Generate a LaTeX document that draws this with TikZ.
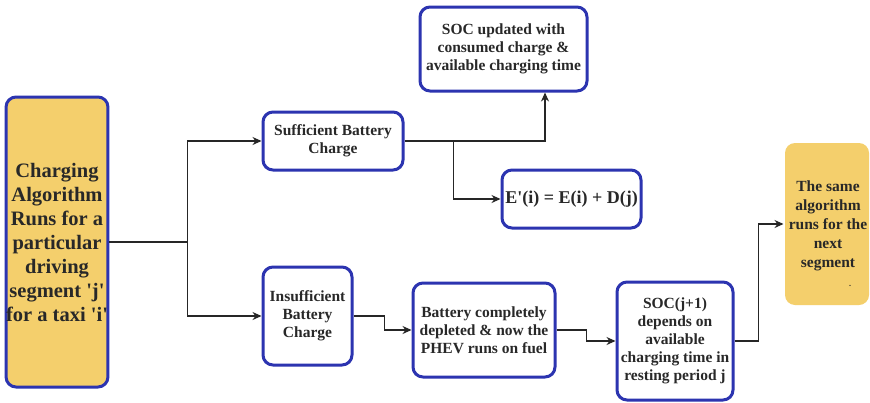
\documentclass[tikz,border=0pt]{standalone}
\usepackage{fontspec}
\setmainfont{Liberation Serif}
\usepackage{xcolor}
\usetikzlibrary{
  arrows.meta,
  positioning,
  calc
}
\definecolor{boxblue}{RGB}{44,52,176}
\definecolor{boxyellow}{RGB}{244,207,108}
\definecolor{txtdark}{RGB}{40,40,40}
\tikzset{
  procbox/.style={
    draw=boxblue,
    fill=white,
    line width=3pt,
    rounded corners=10pt,
    inner sep=0pt,
    align=center,
    text=txtdark,
    font=\fontsize{15.5}{18}\selectfont\bfseries,
  },
  startbox/.style={
    procbox,
    fill=boxyellow,
    font=\fontsize{20.5}{24}\selectfont\bfseries,
  },
  endbox/.style={
    procbox,
    draw=none,
    fill=boxyellow,
    font=\fontsize{15.5}{19}\selectfont\bfseries,
  },
  arr/.style={
    -{Stealth[length=9pt,width=8pt]},
    line width=1.3pt,
    draw=black!85,
  },
}
\begin{document}
\begin{tikzpicture}[x=1pt, y=-1pt]
  \useasboundingbox[fill=white] (0,0) rectangle (870,402);

  % Start of the algorithm
  \node[startbox, minimum width=100, minimum height=290] (algo) at (57,242)
    {Charging\\Algorithm\\Runs for a\\particular\\driving\\segment \textquotesingle j\textquotesingle\\for a taxi \textquotesingle i\textquotesingle};

  % Upper branch -- enough charge
  \node[procbox, minimum width=140, minimum height=58] (suff) at (333,141)
    {Sufficient Battery\\Charge};
  \node[procbox, minimum width=167, minimum height=84] (socup) at (503.5,49)
    {SOC updated with\\consumed charge \&\\available charging time};
  \node[procbox, minimum width=139, minimum height=58,
        font=\fontsize{18}{21}\selectfont\bfseries] (energy) at (571.5,199)
    {E\textquotesingle(i) = E(i) + D(j)};

  % Lower branch -- not enough charge
  \node[procbox, minimum width=89, minimum height=98] (insuff) at (307.5,316)
    {Insufficient\\Battery\\Charge};
  \node[procbox, minimum width=142, minimum height=94] (fuel) at (484,330)
    {Battery completely\\depleted \& now the\\PHEV runs on fuel};
  \node[procbox, minimum width=116, minimum height=118] (socnext) at (675,341)
    {SOC(j+1)\\depends on\\available\\charging time in\\resting period j};

  % Next segment (text sits a little low in its box)
  \node[endbox, minimum width=84, minimum height=162] (nextseg) at (827,224) {};
  \node[endbox, fill=none] (nextsegtext) at (828,234)
    {The same\\algorithm\\runs for the\\next\\segment\\\hspace*{44pt}{\fontsize{8}{19}\selectfont .}};

  % Connectors
  \coordinate (fork) at ($(algo.east)+(78,0)$);
  \draw[line width=1.3pt, draw=black!85] (algo.east) -- (fork);
  \draw[arr] (fork) |- (suff.west);
  \draw[arr] (fork) |- (insuff.west);

  \draw[arr] (suff.east) -| ([xshift=41.5pt]socup.south);
  \coordinate (tap) at ($(suff.east)+(49,0)$);
  \draw[arr] (tap) |- (energy.west);

  \draw[arr] (insuff.east) -- ++(31,0) |- (fuel.west);
  \draw[arr] (fuel.east) -- ++(30,0) |- (socnext.west);
  \draw[arr] (socnext.east) -- ++(24,0) |- (nextseg.west);
\end{tikzpicture}
\end{document}
